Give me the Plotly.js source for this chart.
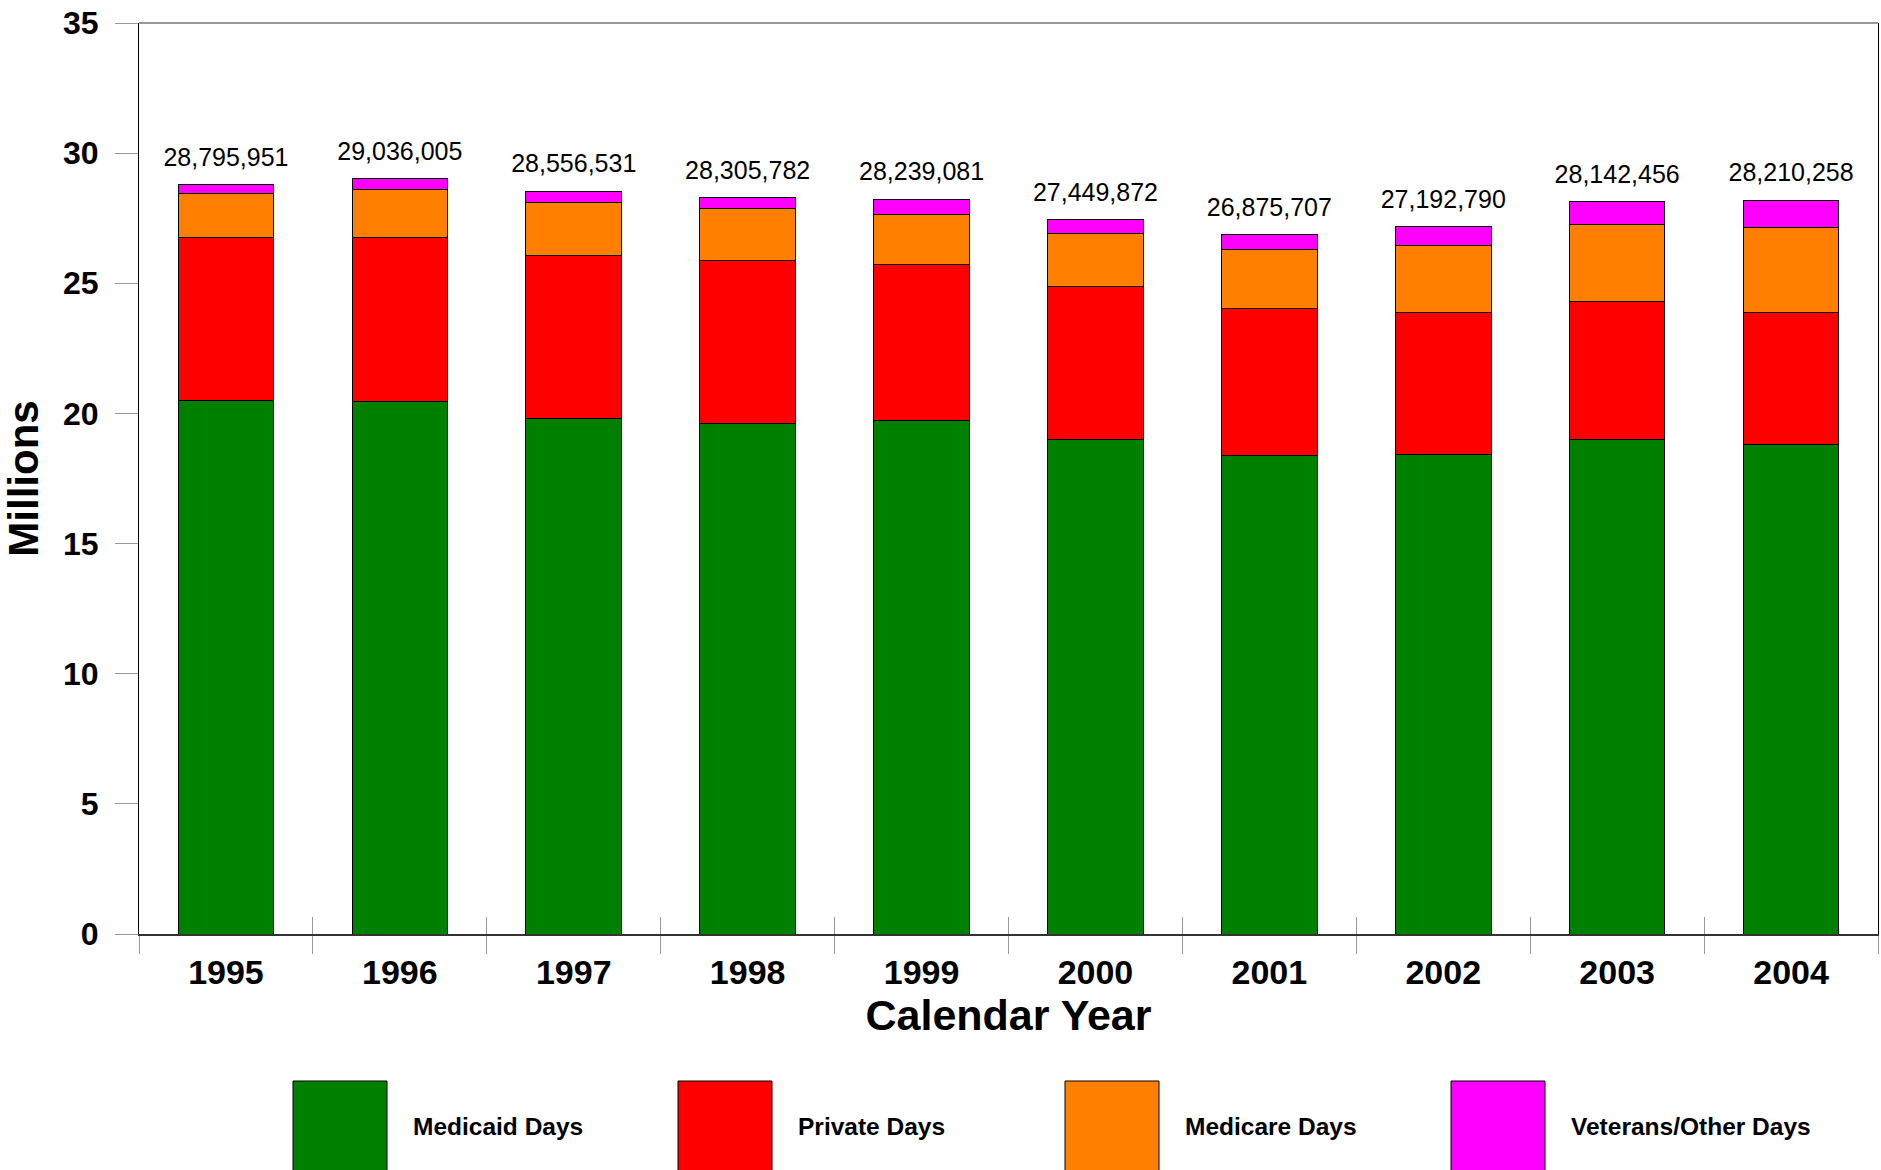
<!DOCTYPE html>
<html>
<head>
<meta charset="utf-8">
<script src="https://cdn.plot.ly/plotly-3.0.1.min.js"></script>
<style>
  html, body { margin: 0; padding: 0; background: #fff; }
  #chart { width: 1881px; height: 1170px; }
</style>
</head>
<body>
<div id="chart"></div>
<script>
// ---- data (millions of patient days) ----
const years = ['1995','1996','1997','1998','1999','2000','2001','2002','2003','2004'];
const medicaidDays = [20.49, 20.45, 19.82, 19.62, 19.73, 18.98, 18.38, 18.43, 18.98, 18.81];
const privateDays  = [6.27, 6.30, 6.24, 6.25, 6.00, 5.88, 5.65, 5.46, 5.33, 5.07];
const medicareDays = [1.69, 1.87, 2.05, 2.00, 1.92, 2.05, 2.26, 2.56, 2.96, 3.25];
const veteransOtherDays = [0.36, 0.40, 0.43, 0.42, 0.56, 0.54, 0.60, 0.75, 0.88, 1.05];
const totalDays = [28795951, 29036005, 28556531, 28305782, 28239081, 27449872, 26875707, 27192790, 28142456, 28210258];
const seriesNames = ['Medicaid Days', 'Private Days', 'Medicare Days', 'Veterans/Other Days'];
const seriesColors = ['#008000', '#FF0000', '#FF8000', '#FF00FF'];

const FONT = '"Liberation Sans", Arial, sans-serif';

// plot-area geometry (pixels) used to place the hand-drawn legend
const L = 139, R = 1878, T = 23, B = 934;
const px = x => (x - L) / (R - L);
const py = y => (B - y) / (B - T);

const seriesValues = [medicaidDays, privateDays, medicareDays, veteransOtherDays];
const traces = seriesValues.map((vals, i) => ({
  type: 'bar',
  name: seriesNames[i],
  x: years,
  y: vals,
  marker: { color: seriesColors[i], line: { color: '#000000', width: 1 } },
  showlegend: false,
  hoverinfo: 'x+y+name'
}));

// totals above the bars (transparent markers push the text up)
traces.push({
  type: 'scatter',
  mode: 'markers+text',
  x: years,
  y: totalDays.map(v => v / 1e6),
  xaxis: 'x2',
  yaxis: 'y',
  marker: { size: 18, color: 'rgba(0,0,0,0)' },
  text: totalDays.map(v => v.toLocaleString('en-US')),
  textposition: 'top center',
  textfont: { family: FONT, size: 25, color: '#000000' },
  showlegend: false,
  hoverinfo: 'skip',
  cliponaxis: false
});

// legend drawn as big swatches
const boxX = [293, 678, 1065, 1451];
const boxW = 94;
const shapes = boxX.map((x0, i) => ({
  type: 'rect', xref: 'paper', yref: 'paper',
  x0: px(x0), x1: px(x0 + boxW), y0: py(1081), y1: py(1200),
  fillcolor: seriesColors[i], line: { color: '#000000', width: 1 }
}));
// top frame line (thin grey)
shapes.push({
  type: 'line', xref: 'paper', yref: 'paper', x0: 0, x1: 1, y0: 1, y1: 1,
  line: { color: '#777777', width: 1.5 }
});
const annotations = boxX.map((x0, i) => ({
  xref: 'paper', yref: 'paper',
  x: px(x0 + 118), y: py(1126),
  xanchor: 'left', yanchor: 'middle',
  text: seriesNames[i], showarrow: false,
  font: { family: FONT, size: 24.5, color: '#000000', weight: 'bold' }
}));

const layout = {
  width: 1881, height: 1170,
  margin: { l: L, r: 1881 - R, t: T, b: 1170 - B, pad: 0 },
  paper_bgcolor: '#ffffff', plot_bgcolor: '#ffffff',
  barmode: 'stack',
  bargap: 0.45,
  showlegend: false,
  font: { family: FONT, color: '#000000' },
  xaxis: {
    type: 'category',
    range: [-0.5, 9.5],
    showline: true, linecolor: '#333333', linewidth: 2, mirror: false,
    ticks: 'outside', tickson: 'boundaries', ticklen: 18, tickcolor: '#999999', tickwidth: 1,
    tickfont: { family: FONT, size: 34, color: '#000000', weight: 'bold' },
    ticklabelstandoff: 7,
    showgrid: false, zeroline: false,
    title: { text: 'Calendar Year', font: { family: FONT, size: 43, color: '#000000', weight: 'bold' }, standoff: 10 },
    automargin: false
  },
  xaxis2: {
    type: 'category',
    overlaying: 'x', matches: 'x', anchor: 'y', side: 'bottom',
    showline: false,
    ticks: 'inside', tickson: 'boundaries', ticklen: 17, tickcolor: '#999999', tickwidth: 1,
    showticklabels: false, showgrid: false, zeroline: false
  },
  yaxis: {
    range: [0, 35], dtick: 5, tick0: 0,
    showline: true, linecolor: '#000000', linewidth: 1, mirror: true,
    ticks: 'outside', ticklen: 23, tickcolor: '#999999', tickwidth: 1,
    tickfont: { family: FONT, size: 32, color: '#000000', weight: 'bold' },
    ticklabelstandoff: 10,
    showgrid: false, zeroline: false,
    title: { text: 'Millions', font: { family: FONT, size: 42, color: '#000000', weight: 'bold' }, standoff: 14 },
    automargin: false
  },
  shapes: shapes,
  annotations: annotations
};

Plotly.newPlot('chart', traces, layout, { displayModeBar: false, responsive: false });
</script>
</body>
</html>
